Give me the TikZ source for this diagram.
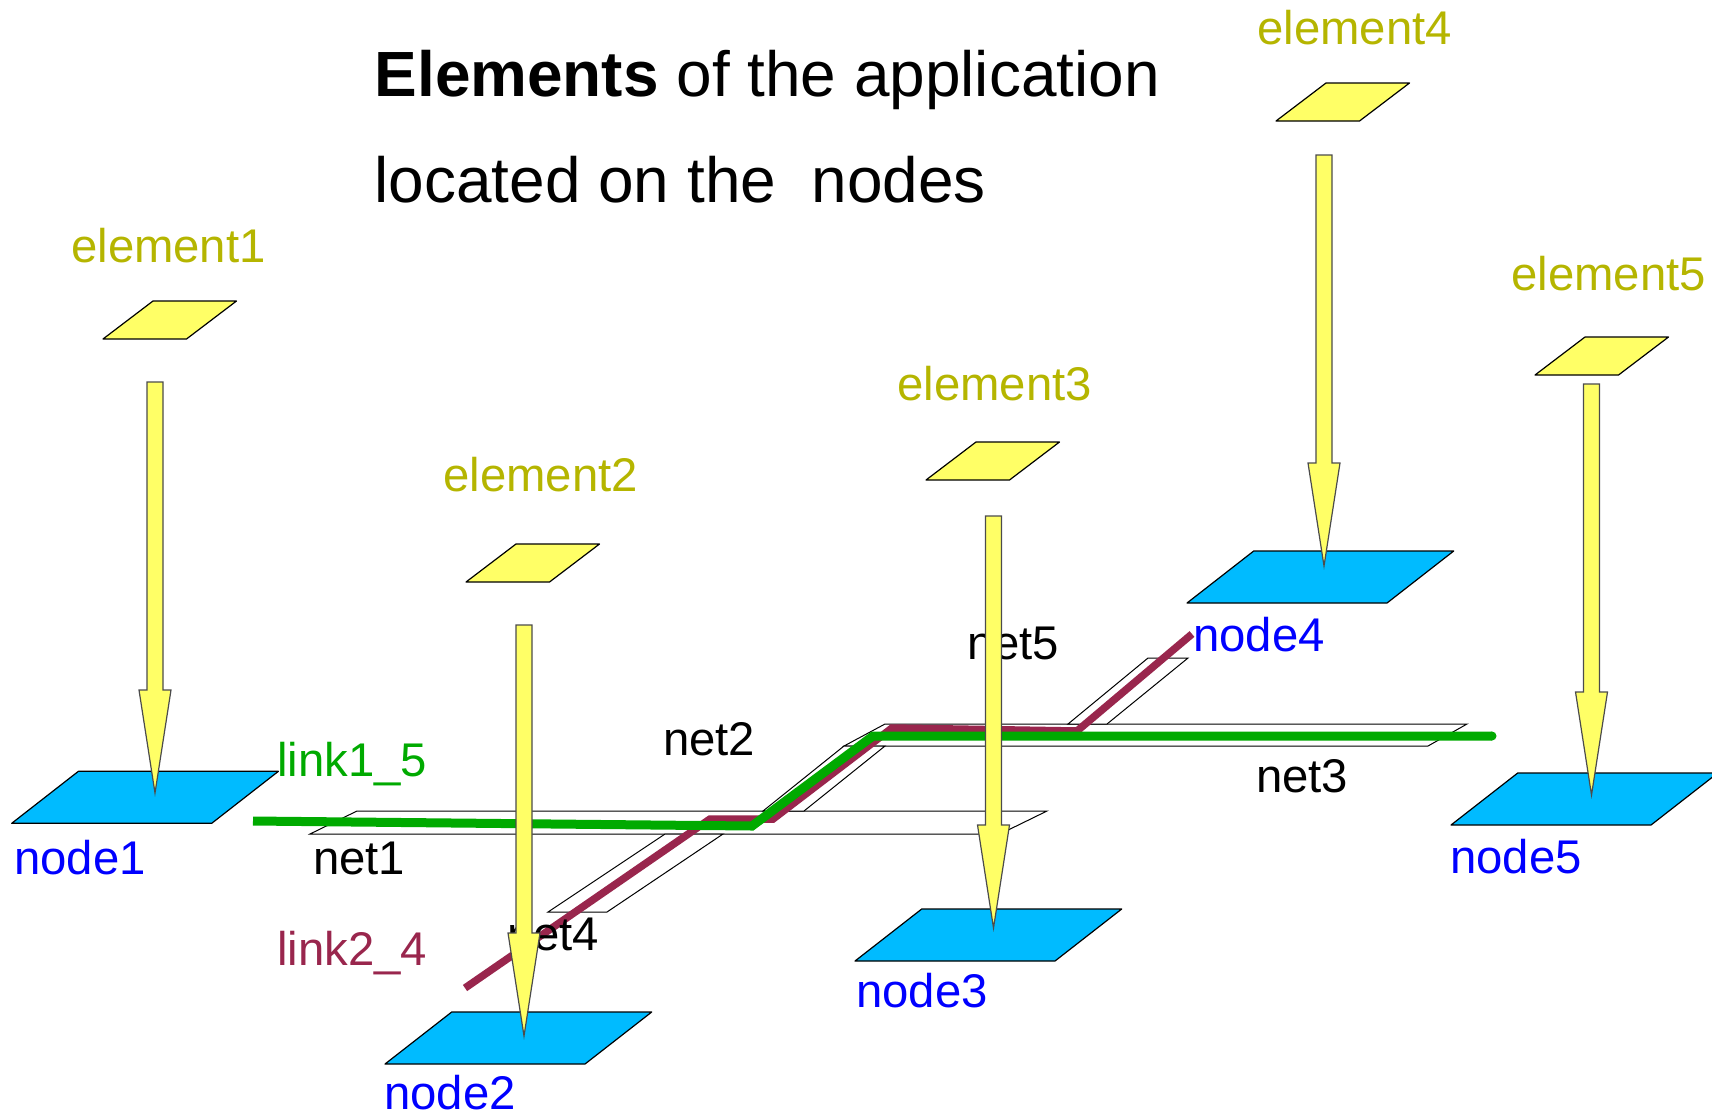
\documentclass[tikz,border=0pt]{standalone}
\usepackage{fontspec}
\setmainfont{Liberation Sans}
\usetikzlibrary{calc}

\definecolor{padyellow}{RGB}{255,255,102}
\definecolor{plateblue}{RGB}{0,187,255}
\definecolor{elemolive}{RGB}{181,181,0}
\definecolor{nodeblue}{RGB}{0,0,255}
\definecolor{linkgreen}{RGB}{0,170,0}
\definecolor{linkmaroon}{RGB}{153,38,77}

% flat parallelogram: style, bottom-left corner, width, slant, height
\newcommand{\plate}[5]{%
  \draw[#1] (#2) -- ++(#3,0) -- ++(#4,-#5) -- ++(-#3,0) -- cycle;}

% broad yellow arrow from a start coordinate down to a tip coordinate
\newcommand{\placearrow}[2]{%
  \draw[arrowbody] ($(#1)+(-8,0)$) -- ($(#1)+(8,0)$) -- ($(#2)+(8,-103)$)
    -- ($(#2)+(16,-103)$) -- (#2) -- ($(#2)+(-16,-103)$)
    -- ($(#2)+(-8,-103)$) -- cycle;}

\tikzset{
  elemplate/.style={fill=padyellow, draw=black, line width=1.2pt, line join=round},
  nodeplate/.style={fill=plateblue, draw=black, line width=1.2pt, line join=round},
  netplate/.style={fill=white, draw=black, line width=1pt},
  arrowbody/.style={fill=padyellow, draw=black!70, line width=1.2pt},
  lbl/.style={anchor=base west, inner sep=0pt, font=\fontsize{47.3}{56}\selectfont},
  elemlbl/.style={lbl, text=elemolive},
  nodelbl/.style={lbl, text=nodeblue},
  netlbl/.style={lbl, text=black},
  greenlink/.style={draw=linkgreen, line width=9pt, line join=miter},
  maroonlink/.style={draw=linkmaroon, line width=7.5pt, line join=miter},
  titletext/.style={anchor=base west, inner sep=0pt, font=\fontsize{63.9}{76}\selectfont}
}

\begin{document}
\begin{tikzpicture}[x=1pt, y=-1pt]
\useasboundingbox (0,0) rectangle (1712,1117);
\clip (0,0) rectangle (1712,1117);

% title
\node[titletext] (title1) at (374.5,96) {\textbf{Elements} of the application};
\node[titletext] (title2) at (374.5,202) {located on the~~nodes};

% network segments
\draw[netplate] (310,834) -- (1000,834) -- (1047,811) -- (357,811) -- cycle;   % net1
\draw[netplate] (548,912) -- (607,912) -- (723,834) -- (665,834) -- cycle;     % net4
\draw[netplate] (844,746) -- (1428,746) -- (1467,724) -- (885,724) -- cycle;   % net3
\draw[netplate] (763,811) -- (804,811) -- (885,746) -- (844,746) -- cycle;     % net2
\draw[netplate] (1068,724) -- (1107,724) -- (1188,658) -- (1148,658) -- cycle; % net5

% link2_4 route
\coordinate (m0) at (465,988);
\coordinate (m1) at (710,819);
\coordinate (m2) at (773,819);
\coordinate (m3) at (892,728);
\coordinate (m4) at (1077,731);
\coordinate (m5) at (1192,634);
\draw[maroonlink] (m0) -- (m1) -- (m2) -- (m3) -- (m4) -- (m5);

% link1_5 route
\coordinate (g0) at (253,821);
\coordinate (g1) at (752,826);
\coordinate (g2) at (873,736);
\coordinate (g3) at (1492,736);
\draw[greenlink] (g0) -- (g1) -- (g2) -- (g3);
\fill[linkgreen] (g3) circle (4.5);

% labels of nets and links
\node[netlbl] (net1) at (313,874) {net1};
\node[netlbl] (net2) at (663,755) {net2};
\node[netlbl] (net3) at (1256,792) {net3};
\node[netlbl] (net4) at (507,950) {net4};
\node[netlbl] (net5) at (967,659) {net5};
\node[lbl, text=linkgreen] (link15) at (277,776) {link1\_5};
\node[lbl, text=linkmaroon] (link24) at (277,965) {link2\_4};

% host nodes
\coordinate (node1) at (11.7,823.3);
\coordinate (node2) at (385,1064);
\coordinate (node3) at (855,961);
\coordinate (node4) at (1187,603);
\coordinate (node5) at (1451,825);
\plate{nodeplate}{node1}{200}{66.7}{52}
\plate{nodeplate}{node2}{200}{66.7}{52}
\plate{nodeplate}{node3}{200}{66.7}{52}
\plate{nodeplate}{node4}{200}{66.7}{52}
\plate{nodeplate}{node5}{200}{66.7}{52}
\node[nodelbl] (node1lbl) at (14,874) {node1};
\node[nodelbl] (node2lbl) at (384,1109) {node2};
\node[nodelbl] (node3lbl) at (856,1007) {node3};
\node[nodelbl] (node4lbl) at (1193,651) {node4};
\node[nodelbl] (node5lbl) at (1450,873) {node5};

% application elements
\coordinate (elem1) at (103,339);
\coordinate (elem2) at (466,582);
\coordinate (elem3) at (926,480);
\coordinate (elem4) at (1276,121);
\coordinate (elem5) at (1535,375);
\plate{elemplate}{elem1}{83.5}{50}{38}
\plate{elemplate}{elem2}{83.5}{50}{38}
\plate{elemplate}{elem3}{83.5}{50}{38}
\plate{elemplate}{elem4}{83.5}{50}{38}
\plate{elemplate}{elem5}{83.5}{50}{38}
\node[elemlbl] (elem1lbl) at (71,262) {element1};
\node[elemlbl] (elem2lbl) at (443,491) {element2};
\node[elemlbl] (elem3lbl) at (897,400) {element3};
\node[elemlbl] (elem4lbl) at (1257,44) {element4};
\node[elemlbl] (elem5lbl) at (1511,290) {element5};

% placement arrows, element -> node
\coordinate (a1s) at (155,382);   \coordinate (a1t) at (155,793);
\coordinate (a2s) at (524,625);   \coordinate (a2t) at (524,1036);
\coordinate (a3s) at (993.5,516); \coordinate (a3t) at (993.5,928);
\coordinate (a4s) at (1324,155);  \coordinate (a4t) at (1324,566);
\coordinate (a5s) at (1591.5,384);\coordinate (a5t) at (1591.5,795);
\placearrow{a1s}{a1t}
\placearrow{a2s}{a2t}
\placearrow{a3s}{a3t}
\placearrow{a4s}{a4t}
\placearrow{a5s}{a5t}
\end{tikzpicture}
\end{document}
